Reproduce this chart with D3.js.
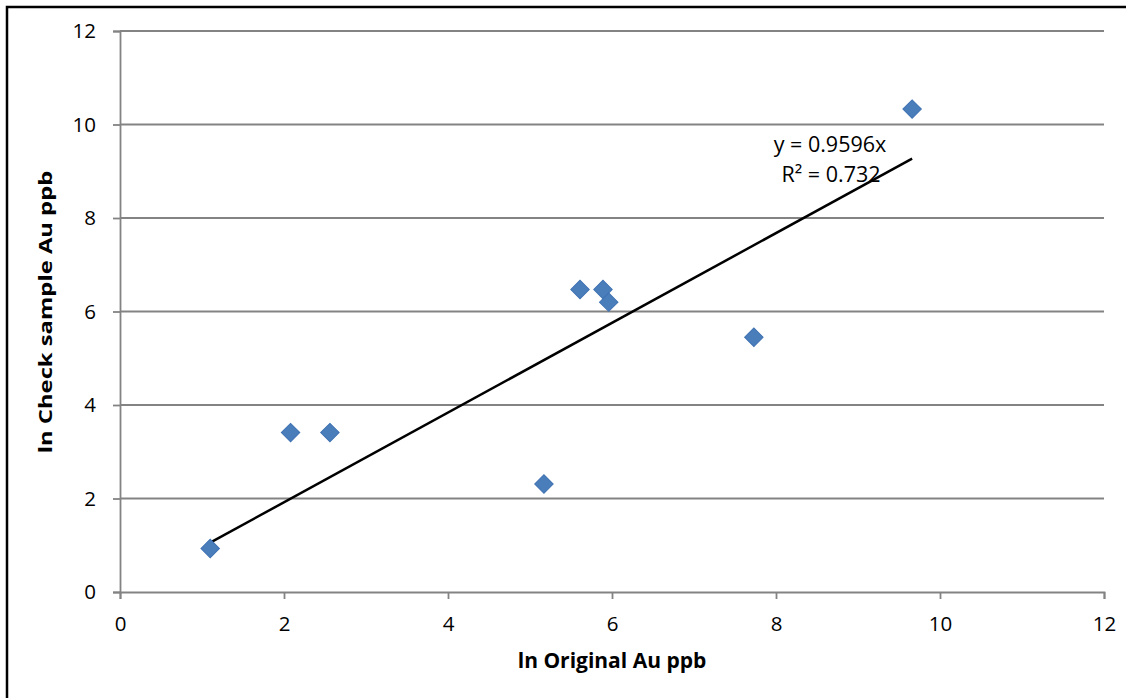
<!DOCTYPE html>
<html>
<head>
<meta charset="utf-8">
<script src="https://cdn.jsdelivr.net/npm/d3@7"></script>
<style>
  body { margin: 0; background: #fff; }
  text { font-family: "Open Sans", "Noto Sans", sans-serif; fill: #000; }
</style>
</head>
<body>
<div id="chart"></div>
<script>
// chart data
const origAu = [1.10, 2.08, 2.56, 5.17, 5.61, 5.89, 5.96, 7.73, 9.66];
const checkAu = [0.93, 3.41, 3.41, 2.31, 6.47, 6.47, 6.2, 5.45, 10.33];
const xTicks = [0, 2, 4, 6, 8, 10, 12];
const yTicks = [0, 2, 4, 6, 8, 10, 12];
const slope = 0.9596;
const eqText = "y = 0.9596x";
const r2Text = "R² = 0.732";

const W = 1135, H = 698;
const MARGIN = {LEFT: 120, RIGHT: 31, TOP: 31, BOTTOM: 106};
const GRID = "#838383";

const svg = d3.select("#chart").append("svg")
  .attr("width", W).attr("height", H);

// outer frame (only top and left edges show)
svg.append("path")
  .attr("d", "M7," + H + "V7H1126")
  .attr("fill", "none").attr("stroke", "#000").attr("stroke-width", 2.5);

const x = d3.scaleLinear().domain([0, 12]).range([MARGIN.LEFT, W - MARGIN.RIGHT]);
const y = d3.scaleLinear().domain([0, 12]).range([H - MARGIN.BOTTOM, MARGIN.TOP]);

// horizontal gridlines
svg.append("g").selectAll("line").data(yTicks.filter(d => d > 0)).enter().append("line")
  .attr("x1", x(0)).attr("x2", x(12))
  .attr("y1", d => y(d)).attr("y2", d => y(d))
  .attr("stroke", GRID).attr("stroke-width", 1.8);

// axes
const xAxisG = svg.append("g")
  .attr("transform", "translate(0," + y(0) + ")")
  .call(d3.axisBottom(x).tickValues(xTicks).tickSize(7).tickPadding(17));
const yAxisG = svg.append("g")
  .attr("transform", "translate(" + x(0) + ",0)")
  .call(d3.axisLeft(y).tickValues(yTicks).tickSize(7).tickPadding(17));

[xAxisG, yAxisG].forEach(g => {
  g.select(".domain").attr("stroke", GRID).attr("stroke-width", 1.8);
  g.selectAll(".tick line").attr("stroke", GRID).attr("stroke-width", 1.8);
  g.selectAll(".tick text").style("font-size", "20.5px").attr("fill", "#000");
});

// trendline through origin, over the range of the data
const xr = d3.extent(origAu);
svg.append("line")
  .attr("x1", x(xr[0])).attr("y1", y(slope * xr[0]))
  .attr("x2", x(xr[1])).attr("y2", y(slope * xr[1]))
  .attr("stroke", "#000").attr("stroke-width", 2.5);

// points (diamonds)
const diamond = d3.symbol().type(d3.symbolSquare).size(170);
svg.append("g").selectAll("path").data(origAu).enter().append("path")
  .attr("d", diamond)
  .attr("transform", (d, i) => "translate(" + x(d) + "," + y(checkAu[i]) + ") rotate(45)")
  .attr("fill", "#4a7ebb").attr("stroke", "#3f72b2").attr("stroke-width", 1);

// equation label
svg.append("text")
  .attr("x", 830).attr("y", 152)
  .attr("text-anchor", "middle").style("font-size", "21.5px")
  .text(eqText);
svg.append("text")
  .attr("x", 831).attr("y", 182)
  .attr("text-anchor", "middle").style("font-size", "21.5px")
  .text(r2Text);

// axis titles
svg.append("text")
  .attr("x", 612).attr("y", 668)
  .attr("text-anchor", "middle")
  .style("font-size", "21px").style("font-weight", "bold")
  .text("ln Original Au ppb");
svg.append("text")
  .attr("transform", "translate(52,312) rotate(-90) scale(1.4,1)")
  .attr("text-anchor", "middle")
  .style("font-size", "17px").style("font-weight", "bold")
  .text("ln Check sample Au ppb");
</script>
</body>
</html>
